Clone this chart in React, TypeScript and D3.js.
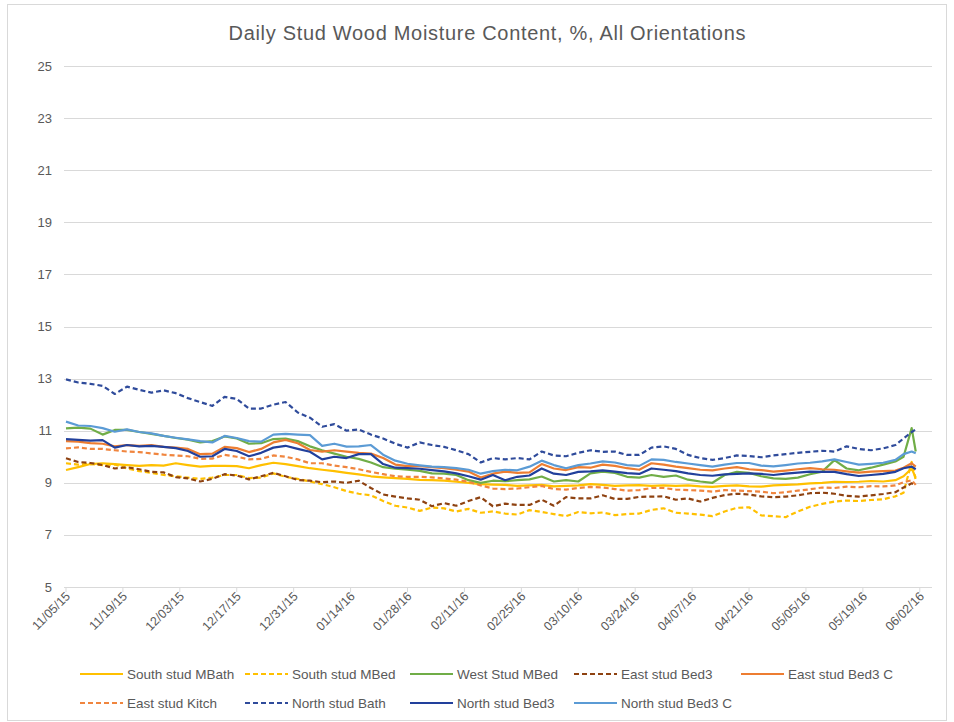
import React from "react";
import * as d3 from "d3";

const WIDTH = 954;
const HEIGHT = 722;

const titleText = "Daily Stud Wood Moisture Content, %, All Orientations";
const startDay = Date.UTC(2015, 10, 5);
const axisEndDay = Date.UTC(2016, 5, 5);
const dayOffsets: number[] = [...d3.range(0, 205, 3), 206, 208, 209];
const tickDayOffsets: number[] = d3.range(0, 211, 14);
const yTicks: number[] = [5, 7, 9, 11, 13, 15, 17, 19, 21, 23, 25];

const seriesNames = [
  "South stud MBath",
  "South stud MBed",
  "West Stud MBed",
  "East stud Bed3",
  "East stud Bed3 C",
  "East stud Kitch",
  "North stud Bath",
  "North stud Bed3",
  "North stud Bed3 C",
];

const southMBath = [
  9.49, 9.6, 9.72, 9.75, 9.72, 9.68, 9.65, 9.68, 9.66, 9.75, 9.68, 9.62, 9.65, 9.65, 9.64, 9.56, 9.68, 9.77, 9.72, 9.64,
  9.56, 9.5, 9.45, 9.38, 9.32, 9.25, 9.21, 9.18, 9.15, 9.11, 9.1, 9.08, 9.04, 9.0, 8.95, 8.93, 8.92, 8.88, 8.9, 8.92,
  8.86, 8.88, 8.9, 8.95, 8.92, 8.88, 8.9, 8.91, 8.88, 8.9, 8.88, 8.9, 8.86, 8.84, 8.88, 8.9, 8.86, 8.85, 8.9, 8.92,
  8.94, 8.98, 9.0, 9.04, 9.03, 9.04, 9.07, 9.05, 9.1, 9.25, 9.55, 9.2,
];
const southMBed = [
  9.75, 9.7, 9.72, 9.68, 9.7, 9.55, 9.45, 9.38, 9.3, 9.25, 9.2, 9.15, 9.2, 9.3, 9.3, 9.18, 9.2, 9.36, 9.23, 9.15,
  9.05, 8.95, 8.83, 8.68, 8.58, 8.52, 8.3, 8.12, 8.05, 7.92, 8.05, 8.02, 7.9, 8.0, 7.85, 7.9, 7.82, 7.78, 7.95, 7.88,
  7.8, 7.72, 7.88, 7.83, 7.86, 7.76, 7.8, 7.82, 7.96, 8.02, 7.85, 7.82, 7.78, 7.72, 7.9, 8.04, 8.06, 7.75, 7.72, 7.68,
  7.9, 8.08, 8.19, 8.28, 8.32, 8.3, 8.34, 8.37, 8.48, 8.62, 9.8, 9.1,
];
const westMBed = [
  11.09, 11.12, 11.08, 10.85, 11.03, 11.03, 10.95, 10.88, 10.8, 10.72, 10.66, 10.55, 10.6, 10.78, 10.7, 10.5, 10.52, 10.68, 10.7, 10.6,
  10.4, 10.25, 10.12, 10.0, 9.92, 9.78, 9.6, 9.54, 9.5, 9.46, 9.36, 9.35, 9.3, 9.1, 9.0, 9.08, 9.06, 9.1, 9.13, 9.24,
  9.05, 9.1, 9.05, 9.36, 9.43, 9.38, 9.23, 9.2, 9.3, 9.23, 9.28, 9.12, 9.05, 9.0, 9.3, 9.42, 9.38, 9.25, 9.17, 9.15,
  9.2, 9.33, 9.43, 9.87, 9.55, 9.48, 9.58, 9.7, 9.82, 10.0, 11.1, 10.2,
];
const eastBed3 = [
  9.94, 9.8, 9.76, 9.68, 9.55, 9.6, 9.52, 9.42, 9.4, 9.22, 9.17, 9.05, 9.15, 9.33, 9.28, 9.13, 9.25, 9.38, 9.25, 9.11,
  9.08, 9.02, 9.05, 9.0, 9.08, 8.8, 8.55, 8.47, 8.4, 8.35, 8.1, 8.22, 8.12, 8.3, 8.45, 8.1, 8.2, 8.15, 8.15, 8.35,
  8.12, 8.45, 8.4, 8.4, 8.52, 8.38, 8.38, 8.46, 8.47, 8.48, 8.35, 8.4, 8.28, 8.42, 8.53, 8.58, 8.55, 8.48, 8.45, 8.47,
  8.52, 8.6, 8.62, 8.58, 8.5, 8.47, 8.52, 8.57, 8.64, 8.82, 8.98, 8.92,
];
const eastBed3C = [
  10.6, 10.58, 10.52, 10.5, 10.4, 10.45, 10.42, 10.45, 10.38, 10.35, 10.3, 10.1, 10.12, 10.38, 10.33, 10.18, 10.3, 10.55, 10.65, 10.52,
  10.26, 10.2, 10.25, 10.2, 10.15, 10.12, 9.95, 9.7, 9.64, 9.64, 9.6, 9.56, 9.5, 9.43, 9.2, 9.35, 9.43, 9.38, 9.4, 9.72,
  9.55, 9.49, 9.6, 9.58, 9.7, 9.65, 9.56, 9.5, 9.75, 9.7, 9.62, 9.56, 9.5, 9.48, 9.55, 9.6, 9.52, 9.49, 9.43, 9.47,
  9.52, 9.56, 9.52, 9.5, 9.44, 9.39, 9.43, 9.45, 9.47, 9.58, 9.75, 9.62,
];
const eastKitch = [
  10.32, 10.36, 10.3, 10.3, 10.25, 10.2, 10.18, 10.13, 10.08, 10.05, 10.02, 9.92, 9.93, 10.07, 10.0, 9.9, 9.92, 10.05, 10.0, 9.9,
  9.75, 9.75, 9.66, 9.6, 9.52, 9.42, 9.33, 9.25, 9.23, 9.23, 9.21, 9.17, 9.12, 9.04, 8.9, 8.78, 8.76, 8.78, 8.83, 8.88,
  8.76, 8.74, 8.8, 8.84, 8.82, 8.76, 8.7, 8.72, 8.8, 8.8, 8.74, 8.72, 8.7, 8.66, 8.72, 8.7, 8.68, 8.66, 8.6, 8.64,
  8.7, 8.75, 8.82, 8.8, 8.85, 8.83, 8.87, 8.86, 8.9, 9.02, 9.1, 8.92,
];
const northBath = [
  12.97, 12.85, 12.8, 12.72, 12.41, 12.69, 12.57, 12.46, 12.55, 12.44, 12.25, 12.1, 11.95, 12.3, 12.22, 11.85, 11.85, 12.0, 12.1, 11.7,
  11.5, 11.15, 11.25, 11.0, 11.05, 10.85, 10.7, 10.5, 10.35, 10.55, 10.45, 10.38, 10.25, 10.1, 9.78, 9.95, 9.9, 9.95, 9.9, 10.2,
  10.05, 10.02, 10.15, 10.25, 10.19, 10.2, 10.07, 10.07, 10.35, 10.4, 10.3, 10.07, 9.95, 9.88, 9.95, 10.05, 10.03, 9.98, 10.05, 10.1,
  10.15, 10.19, 10.23, 10.2, 10.4, 10.3, 10.25, 10.32, 10.45, 10.7, 10.95, 11.05,
];
const northBed3 = [
  10.68, 10.65, 10.62, 10.64, 10.35, 10.45, 10.4, 10.42, 10.38, 10.33, 10.22, 10.0, 10.02, 10.3, 10.22, 10.02, 10.15, 10.35, 10.42, 10.3,
  10.19, 9.9, 10.0, 9.95, 10.1, 10.1, 9.72, 9.58, 9.56, 9.54, 9.49, 9.44, 9.36, 9.25, 9.12, 9.3, 9.1, 9.23, 9.28, 9.55,
  9.35, 9.3, 9.42, 9.44, 9.48, 9.43, 9.37, 9.34, 9.55, 9.5, 9.45, 9.36, 9.3, 9.27, 9.32, 9.34, 9.36, 9.34, 9.3, 9.35,
  9.39, 9.43, 9.42, 9.42, 9.33, 9.26, 9.3, 9.34, 9.42, 9.56, 9.62, 9.52,
];
const northBed3C = [
  11.35, 11.2, 11.18, 11.1, 10.96, 11.05, 10.95, 10.9, 10.8, 10.73, 10.67, 10.6, 10.55, 10.8, 10.72, 10.6, 10.58, 10.85, 10.88, 10.85,
  10.83, 10.42, 10.5, 10.39, 10.4, 10.45, 10.08, 9.85, 9.73, 9.67, 9.62, 9.6, 9.56, 9.5, 9.35, 9.45, 9.5, 9.48, 9.62, 9.85,
  9.68, 9.56, 9.68, 9.74, 9.82, 9.78, 9.68, 9.65, 9.9, 9.88, 9.8, 9.74, 9.68, 9.62, 9.7, 9.76, 9.76, 9.66, 9.63, 9.68,
  9.74, 9.77, 9.82, 9.9, 9.8, 9.7, 9.73, 9.77, 9.88, 10.1, 10.2, 10.13,
];

const seriesValues = [southMBath, southMBed, westMBed, eastBed3, eastBed3C, eastKitch, northBath, northBed3, northBed3C];
const seriesColors = ["#FFC000", "#FFC000", "#70AD47", "#8E4211", "#ED7D31", "#F0853E", "#2F4B9B", "#22409C", "#5B9BD5"];
const seriesDashed = [false, true, false, true, false, true, true, false, false];

const FONT = "'Liberation Sans', Arial, sans-serif";
const TEXT_COLOR = "#595959";
const GRID_COLOR = "#D9D9D9";

const plotLeft = 66;
const plotRight = 932;
const plotTop = 66;
const plotBottom = 587;

export default function App() {
  const x = d3.scaleUtc().domain([new Date(startDay), new Date(axisEndDay)]).range([plotLeft, plotRight]);
  const y = d3.scaleLinear().domain([5, 25]).range([plotBottom, plotTop]);
  const dayMs = 86400000;
  const dates = dayOffsets.map((d) => new Date(startDay + d * dayMs));
  const fmt = d3.utcFormat("%m/%d/%y");

  const line = d3
    .line<number>()
    .x((_, i) => x(dates[i]))
    .y((v) => y(v));

  const legendRows = [
    [0, 1, 2, 3, 4],
    [5, 6, 7, 8],
  ];
  const legendCols = [80, 245, 410, 574, 741];
  const legendY = [674, 703];

  return (
    <svg
      width={WIDTH}
      height={HEIGHT}
      style={{ position: "absolute", left: 0, top: 0, background: "#fff" }}
      fontFamily={FONT}
    >
      <rect x={0} y={0} width={WIDTH} height={HEIGHT} fill="#fff" />
      <rect x={7.5} y={4.5} width={939} height={716} fill="none" stroke="#D9D9D9" strokeWidth={1} />
      <text x={487} y={40} textAnchor="middle" fontSize={20} fill={TEXT_COLOR} textLength={517} lengthAdjust="spacing">
        {titleText}
      </text>

      {yTicks.map((t) => (
        <g key={t}>
          <line x1={plotLeft - 2} x2={plotRight} y1={Math.round(y(t)) + 0.5} y2={Math.round(y(t)) + 0.5} stroke={GRID_COLOR} strokeWidth={1} />
          <text x={52} y={y(t) + 4.5} textAnchor="end" fontSize={13} fill={TEXT_COLOR}>
            {t}
          </text>
        </g>
      ))}

      {tickDayOffsets.map((d) => {
        const tx = x(new Date(startDay + d * dayMs));
        return (
          <g key={d}>
            <line x1={tx} x2={tx} y1={plotBottom} y2={plotBottom + 5} stroke={GRID_COLOR} strokeWidth={1} />
            <text
              transform={`translate(${tx + 5},${plotBottom + 10}) rotate(-45)`}
              textAnchor="end"
              fontSize={12.5}
              fill={TEXT_COLOR}
            >
              {fmt(new Date(startDay + d * dayMs))}
            </text>
          </g>
        );
      })}

      {seriesValues.map((vals, si) => (
        <path
          key={seriesNames[si]}
          d={line(vals) || ""}
          fill="none"
          stroke={seriesColors[si]}
          strokeWidth={2.2}
          strokeDasharray={seriesDashed[si] ? "5,3" : undefined}
          strokeLinejoin="round"
        />
      ))}

      {legendRows.map((row, ri) =>
        row.map((si, ci) => {
          const lx = legendCols[ci];
          const ly = legendY[ri];
          return (
            <g key={seriesNames[si]}>
              <line
                x1={lx}
                x2={lx + 43}
                y1={ly}
                y2={ly}
                stroke={seriesColors[si]}
                strokeWidth={2.2}
                strokeDasharray={seriesDashed[si] ? "5,3" : undefined}
              />
              <text x={lx + 47} y={ly + 4.5} fontSize={13.5} fill={TEXT_COLOR}>
                {seriesNames[si]}
              </text>
            </g>
          );
        })
      )}
    </svg>
  );
}
